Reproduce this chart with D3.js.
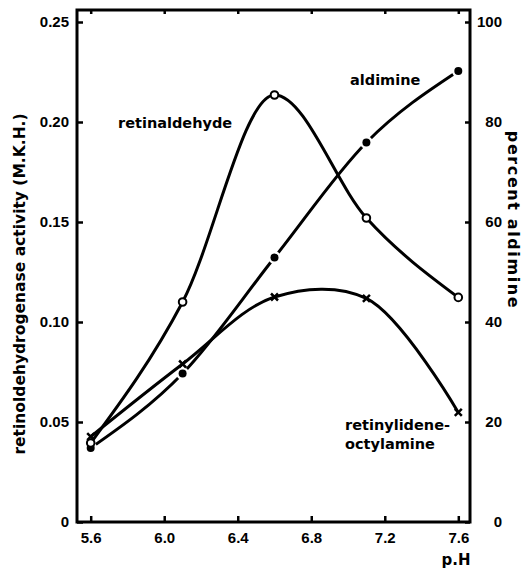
<!DOCTYPE html>
<html lang="en">
<head>
  <meta charset="UTF-8" />
  <title>Retinaldehyde / aldimine vs pH</title>
  <script src="https://d3js.org/d3.v7.min.js"></script>
  <style>
    body { margin: 0; background: #fff; }
    svg { display: block; font-family: "DejaVu Sans", sans-serif; font-weight: bold; }
    .tick text { font-size: 15px; fill: #000; }
    .tick line { stroke: #000; stroke-width: 2.5px; }
    .curve { fill: none; stroke: #000; stroke-width: 3px; }
    .label { font-size: 14.5px; fill: #000; }
  </style>
</head>
<body>
  <div id="chart"></div>
  <script>
    // measured points (pH, activity in M.K.H. / percent aldimine)
    const pH = [5.6, 6.1, 6.6, 7.1, 7.6];
    const retinaldehyde = [0.0395, 0.110, 0.2135, 0.152, 0.1123];
    const aldiminePct = [14.8, 29.7, 52.9, 75.9, 90.2];
    const octylamine = [0.0427, 0.079, 0.1125, 0.1118, 0.0548];

    const xTicks = [5.6, 6.0, 6.4, 6.8, 7.2, 7.6];
    const leftTicks = [0, 0.05, 0.10, 0.15, 0.20, 0.25];
    const rightTicks = [0, 20, 40, 60, 80, 100];

    const width = 524, height = 568;
    const frame = { left: 77, right: 470, top: 10, bottom: 522 };

    const svg = d3.select("#chart").append("svg")
      .attr("width", width)
      .attr("height", height);

    const x = d3.scaleLinear().domain([5.6, 7.6]).range([90.7, 458.3]);
    const yL = d3.scaleLinear().domain([0, 0.25]).range([522, 22]);
    const yR = d3.scaleLinear().domain([0, 100]).range([522, 22]);

    // axes, ticks pointing inward
    svg.append("g")
      .attr("transform", `translate(${frame.left},0)`)
      .call(d3.axisLeft(yL).tickValues(leftTicks).tickSize(-6).tickPadding(8)
        .tickFormat(d => d === 0 ? "0" : d3.format(".2f")(d)))
      .call(g => g.select(".domain").remove());

    svg.append("g")
      .attr("transform", `translate(${frame.right},0)`)
      .call(d3.axisRight(yR).tickValues(rightTicks).tickSize(-5).tickPadding(8))
      .call(g => g.select(".domain").remove())
      .call(g => g.selectAll("text").attr("text-anchor", "end").attr("x", 32));

    svg.append("g")
      .attr("transform", `translate(0,${frame.bottom})`)
      .call(d3.axisBottom(x).tickValues(xTicks).tickSize(-6).tickPadding(10)
        .tickFormat(d3.format(".1f")))
      .call(g => g.select(".domain").remove());

    svg.append("g")
      .attr("transform", `translate(0,${frame.top})`)
      .call(d3.axisTop(x).tickValues(xTicks).tickSize(-4).tickFormat(""))
      .call(g => g.select(".domain").remove());

    // frame
    svg.append("rect")
      .attr("x", frame.left).attr("y", frame.top)
      .attr("width", frame.right - frame.left)
      .attr("height", frame.bottom - frame.top)
      .attr("fill", "none").attr("stroke", "#000").attr("stroke-width", 3);

    // aldimine (right axis), with small gaps around the dots
    const aldLine = d3.line().x((d, i) => x(pH[i])).y(d => yR(d)).curve(d3.curveMonotoneX);
    svg.append("path").datum(aldiminePct).attr("class", "curve").attr("d", aldLine);
    svg.selectAll(".ald-gap").data(aldiminePct).enter().append("circle")
      .attr("cx", (d, i) => x(pH[i])).attr("cy", d => yR(d))
      .attr("r", 6.5).attr("fill", "#fff");
    svg.selectAll(".ald").data(aldiminePct).enter().append("circle")
      .attr("cx", (d, i) => x(pH[i])).attr("cy", d => yR(d))
      .attr("r", 4).attr("fill", "#000");

    // retinylidene-octylamine
    const octLine = d3.line().x((d, i) => x(pH[i])).y(d => yL(d)).curve(d3.curveCatmullRom);
    svg.append("path").datum(octylamine).attr("class", "curve").attr("d", octLine);
    svg.selectAll(".oct").data(octylamine).enter().append("path")
      .attr("transform", (d, i) => `translate(${x(pH[i])},${yL(d)})`)
      .attr("d", "M-3.5,-3.5L3.5,3.5M3.5,-3.5L-3.5,3.5")
      .attr("stroke", "#000").attr("stroke-width", 2.5);

    // retinaldehyde
    const retLine = d3.line().x((d, i) => x(pH[i])).y(d => yL(d)).curve(d3.curveMonotoneX);
    svg.append("path").datum(retinaldehyde).attr("class", "curve").attr("d", retLine);
    svg.selectAll(".ret").data(retinaldehyde).enter().append("circle")
      .attr("cx", (d, i) => x(pH[i])).attr("cy", d => yL(d))
      .attr("r", 3.8).attr("fill", "#fff").attr("stroke", "#000").attr("stroke-width", 2);

    // curve labels
    svg.append("text").attr("class", "label").attr("x", 118).attr("y", 128).text("retinaldehyde");
    svg.append("text").attr("class", "label").attr("x", 350).attr("y", 85).text("aldimine");
    svg.append("text").attr("class", "label").attr("x", 345).attr("y", 430).text("retinylidene-");
    svg.append("text").attr("class", "label").attr("x", 345).attr("y", 449).text("octylamine");

    // axis titles
    svg.append("text")
      .attr("transform", "translate(20,284) rotate(-90)")
      .attr("text-anchor", "middle").attr("dominant-baseline", "central")
      .attr("font-size", "15.5px")
      .text("retinoldehydrogenase activity (M.K.H.)");

    svg.append("text")
      .attr("transform", "translate(513,220) rotate(90)")
      .attr("text-anchor", "middle").attr("dominant-baseline", "central")
      .attr("font-size", "16px").attr("letter-spacing", "1.6px")
      .text("percent aldimine");

    svg.append("text")
      .attr("x", 456).attr("y", 565).attr("text-anchor", "middle")
      .attr("font-size", "15px")
      .text("p.H");
  </script>
</body>
</html>
